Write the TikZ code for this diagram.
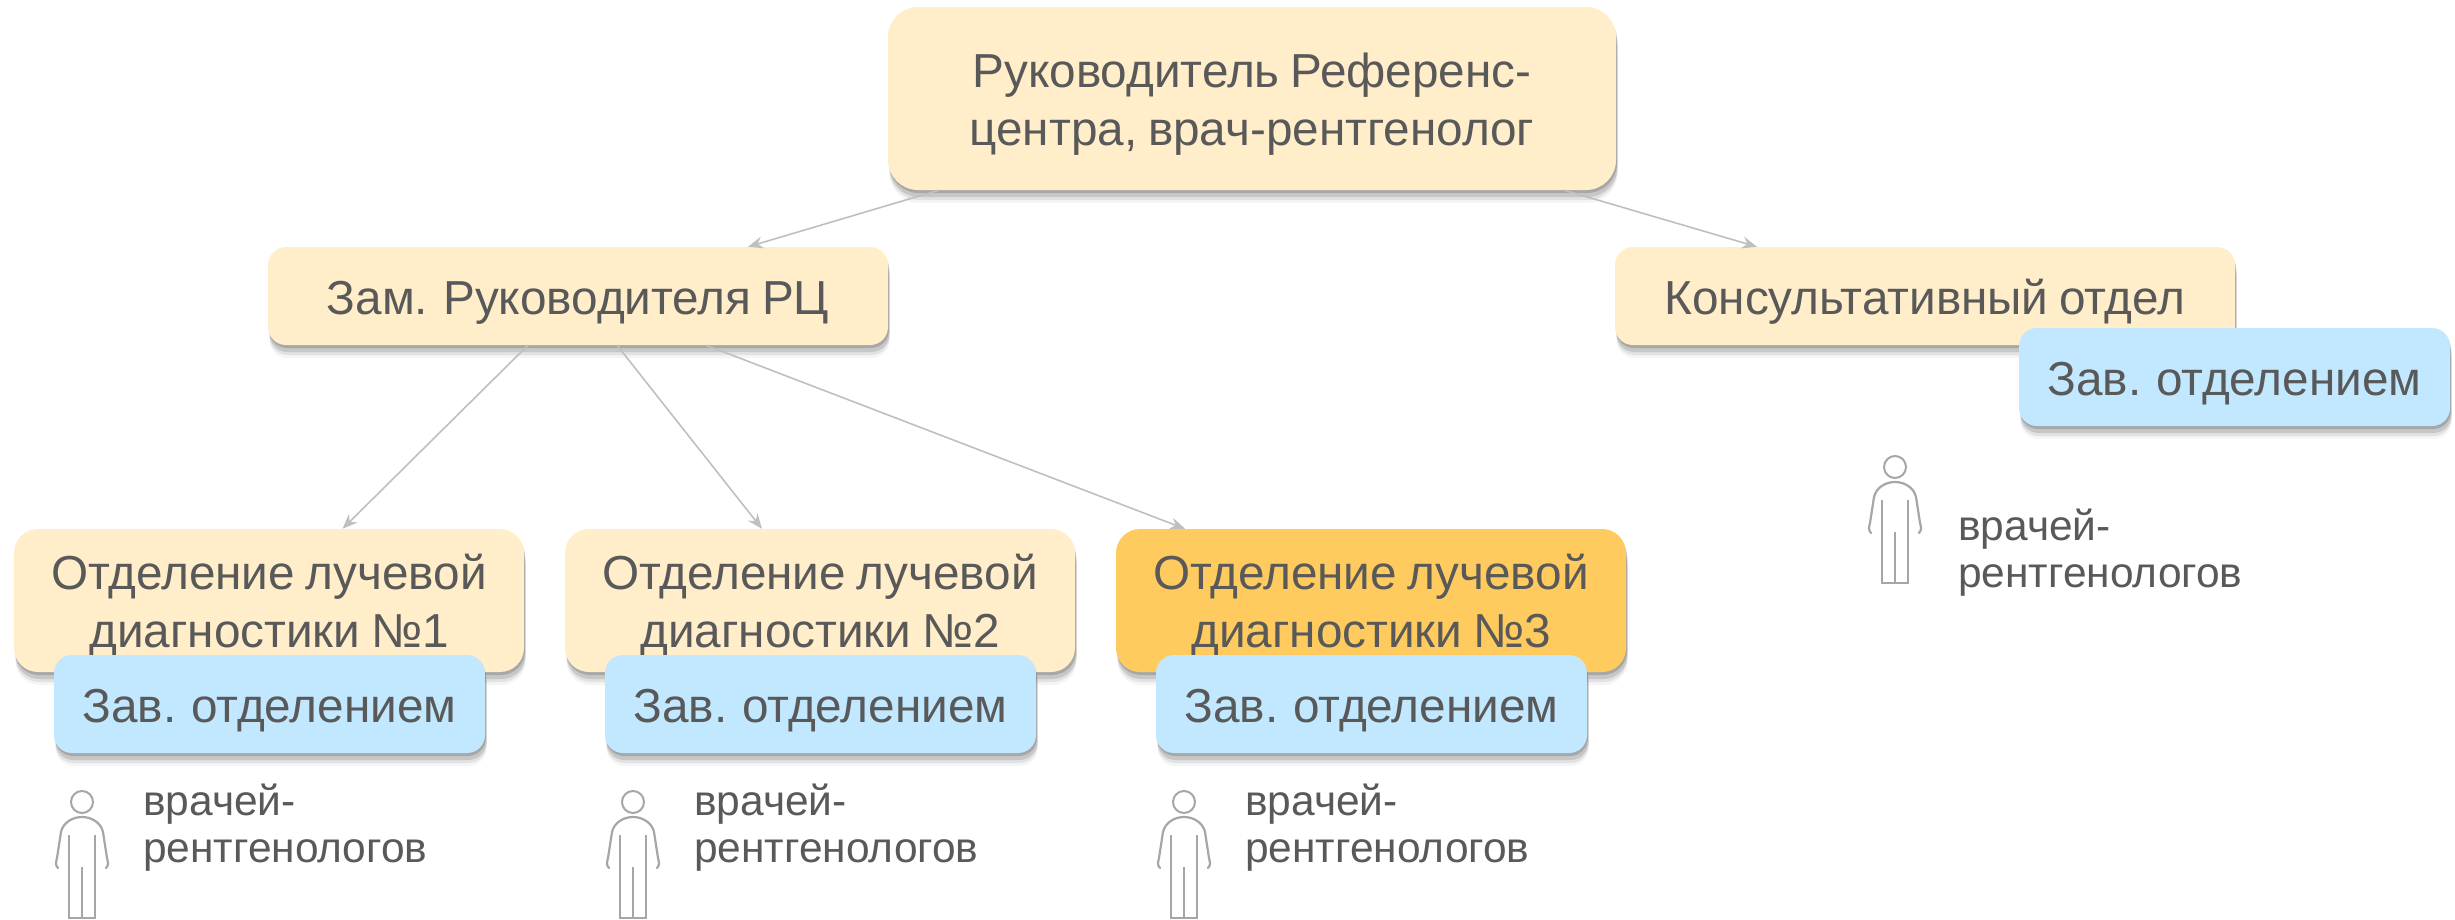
\documentclass[tikz,border=0pt]{standalone}
\usepackage{fontspec}
\setmainfont[WordSpace=0.8]{Liberation Sans}
\usetikzlibrary{shadows,arrows.meta}
\definecolor{creamc}{HTML}{FFEEC9}
\definecolor{bluec}{HTML}{C1E8FF}
\definecolor{orangec}{HTML}{FFCB5F}
\definecolor{textc}{HTML}{595959}
\definecolor{linec}{HTML}{BFBFBF}
\definecolor{figc}{HTML}{A6A6A6}
\tikzset{
  softshadow/.style={
    drop shadow={shadow xshift=1.5pt,shadow yshift=-13pt,opacity=.04,fill=black},
    drop shadow={shadow xshift=1.5pt,shadow yshift=-10pt,opacity=.08,fill=black},
    drop shadow={shadow xshift=1.5pt,shadow yshift=-7pt,opacity=.12,fill=black},
    drop shadow={shadow xshift=1pt,shadow yshift=-3pt,opacity=.16,fill=black}},
  boxbase/.style={softshadow,inner sep=0pt,align=center,text=textc,font=\fontsize{47.7}{58}\selectfont,
    execute at begin node={\rule{0pt}{46pt}}},
  twolines/.style={execute at begin node={\rule{0pt}{104pt}}},
  cream/.style={boxbase,fill=creamc},
  hot/.style={boxbase,fill=orangec},
  headbox/.style={cream,twolines,minimum width=728pt,minimum height=183pt,rounded corners=30pt},
  midbox/.style={cream,minimum width=620pt,minimum height=98pt,rounded corners=18pt},
  deptbox/.style={twolines,minimum width=510pt,minimum height=143pt,rounded corners=24pt},
  zavbox/.style={boxbase,fill=bluec,minimum width=431pt,minimum height=98pt,rounded corners=18pt},
  small/.style={inner sep=0pt,anchor=base west,text=textc,font=\fontsize{42.5}{47}\selectfont},
  link/.style={draw=linec,line width=1.6pt,-{Stealth[length=15pt,width=12pt]}},
  doctorfig/.pic={
    \draw[figc,line width=2pt] (0,0) ellipse (11pt and 11pt);
    \draw[figc,line width=2.2pt,line cap=round,line join=round]
      (-24,66) .. controls (-27,63) and (-26,60) .. (-25,56)
      -- (-21,30) .. controls (-19,21) and (-10,15) .. (0,15)
      .. controls (10,15) and (19,21) .. (21,30)
      -- (25,56) .. controls (26,60) and (27,63) .. (24,66);
    \draw[figc,line width=2.2pt] (-13,33) -- (-13,116) -- (13,116) -- (13,33);
    \draw[figc,line width=2.2pt] (0,65) -- (0,116);
  }
}
\begin{document}
\begin{tikzpicture}[x=1pt,y=-1pt]
\path[use as bounding box] (0,0) rectangle (2455,919);
\clip (0,0) rectangle (2455,919);
\node[headbox] (top) at (1252,98.5) {Руководитель Референс-\\центра, врач-рентгенолог};
\node[midbox] (zam) at (578,296) {Зам. Руководителя РЦ};
\node[midbox] (kons) at (1925,296) {Консультативный отдел};
\node[cream,deptbox] (d1) at (269,600.5) {Отделение лучевой\\диагностики №1};
\node[cream,deptbox] (d2) at (820,600.5) {Отделение лучевой\\диагностики №2};
\node[hot,deptbox] (d3) at (1371,600.5) {Отделение лучевой\\диагностики №3};
\node[zavbox] (z1) at (269.5,704) {Зав. отделением};
\node[zavbox] (z2) at (820.5,704) {Зав. отделением};
\node[zavbox] (z3) at (1371.5,704) {Зав. отделением};
\node[zavbox] (z4) at (2234.5,377) {Зав. отделением};
\draw[link] ([xshift=51pt]top.south west) -- ([xshift=170pt]zam.north);
\draw[link] ([xshift=-52pt]top.south east) -- ([xshift=-168pt]kons.north);
\draw[link] ([xshift=-50pt]zam.south) -- ([xshift=73.5pt]d1.north);
\draw[link] ([xshift=39pt]zam.south) -- ([xshift=-58pt]d2.north);
\draw[link] ([xshift=128pt]zam.south) -- ([xshift=-186pt]d3.north);
\pic at (82,802) {doctorfig};
\pic at (633,802) {doctorfig};
\pic at (1184,802) {doctorfig};
\pic at (1895,467) {doctorfig};
\node[small] (t1a) at (143,815) {врачей-};
\node[small] (t1b) at (143,862) {рентгенологов};
\node[small] (t2a) at (694,815) {врачей-};
\node[small] (t2b) at (694,862) {рентгенологов};
\node[small] (t3a) at (1245,815) {врачей-};
\node[small] (t3b) at (1245,862) {рентгенологов};
\node[small] (t4a) at (1958,540) {врачей-};
\node[small] (t4b) at (1958,587) {рентгенологов};
\end{tikzpicture}
\end{document}
